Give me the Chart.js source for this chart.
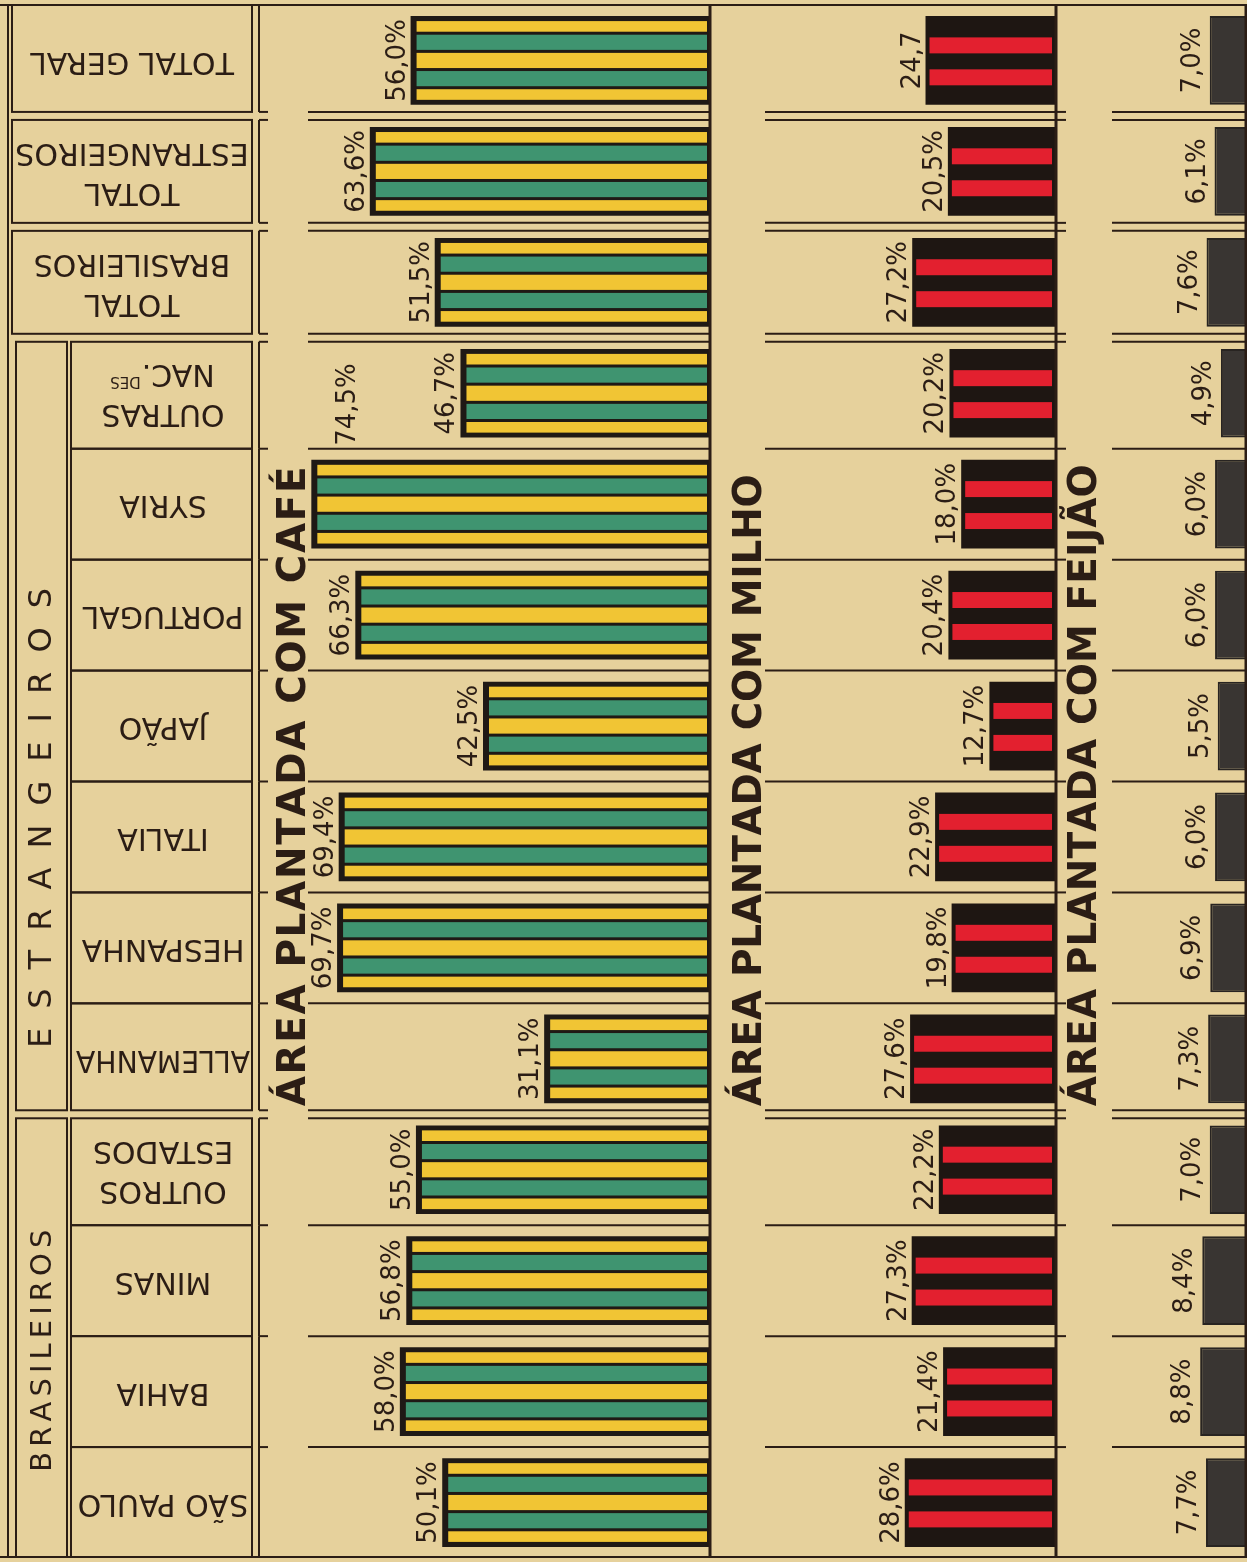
<!DOCTYPE html>
<html>
<head>
<meta charset="utf-8">
<script src="https://cdn.jsdelivr.net/npm/chart.js@4.4.0/dist/chart.umd.min.js"></script>
<style>
  html, body { margin: 0; padding: 0; background: #e6d19c; overflow: hidden; }
  #wrap { position: relative; width: 1247px; height: 1562px; }
  canvas { position: absolute; top: 0; }
</style>
</head>
<body>
<div id="wrap">
  <canvas id="cafe" width="713" height="1562" style="left:0"></canvas>
  <canvas id="milho" width="347" height="1562" style="left:711px"></canvas>
  <canvas id="feijao" width="190" height="1562" style="left:1057px"></canvas>
</div>
<script>
// categorias de cima para baixo (o grafico esta deitado)
const categorias = [
  'TOTAL GERAL', 'TOTAL\nESTRANGEIROS', 'TOTAL\nBRASILEIROS',
  'OUTRAS\nNAC.|DES', 'SYRIA', 'PORTUGAL', 'JAPÃO', 'ITALIA', 'HESPANHA', 'ALLEMANHA',
  'OUTROS\nESTADOS', 'MINAS', 'BAHIA', 'SÃO PAULO'
];
const grupos = [
  'TOTAL', 'TOTAL', 'TOTAL',
  'ESTRANGEIROS', 'ESTRANGEIROS', 'ESTRANGEIROS', 'ESTRANGEIROS', 'ESTRANGEIROS', 'ESTRANGEIROS', 'ESTRANGEIROS',
  'BRASILEIROS', 'BRASILEIROS', 'BRASILEIROS', 'BRASILEIROS'
];
const cafe   = [56.0, 63.6, 51.5, 46.7, 74.5, 66.3, 42.5, 69.4, 69.7, 31.1, 55.0, 56.8, 58.0, 50.1];
const milho  = [24.7, 20.5, 27.2, 20.2, 18.0, 20.4, 12.7, 22.9, 19.8, 27.6, 22.2, 27.3, 21.4, 28.6];
const feijao = [7.0, 6.1, 7.6, 4.9, 6.0, 6.0, 5.5, 6.0, 6.9, 7.3, 7.0, 8.4, 8.8, 7.7];
const milhoSemPct = ['TOTAL GERAL']; // no original o total de milho vem sem o sinal %

const TINTA = '#2b1d15';
const AMARELO = '#f1c534';
const VERDE = '#3f9470';
const VERMELHO = '#e3202f';
const FONTE = '"DejaVu Sans", sans-serif';

const fmt = v => v.toFixed(1).replace('.', ',');

// limites das linhas, a partir da escala y do proprio grafico
function linhas(chart) {
  const y = chart.scales.y;
  const a = chart.chartArea;
  const n = categorias.length;
  const c = i => y.getPixelForValue(i);
  const lim = i => (c(i) + c(i + 1)) / 2;
  const duplo = i => grupos[i] === 'TOTAL' || grupos[i] !== grupos[i + 1];
  const rows = [];
  for (let i = 0; i < n; i++) {
    const topo = i === 0 ? a.top : lim(i - 1) + (duplo(i - 1) ? 4 : 0);
    const fundo = i === n - 1 ? a.bottom - 1 : lim(i) - (duplo(i) ? 4 : 0);
    rows.push({ topo, fundo, centro: c(i) });
  }
  const seps = [];
  for (let i = 0; i < n - 1; i++) {
    if (duplo(i)) { seps.push(lim(i) - 4, lim(i) + 4); } else { seps.push(lim(i)); }
  }
  return { rows, seps, lim };
}

function hline(ctx, x1, x2, y) { ctx.beginPath(); ctx.moveTo(x1, y); ctx.lineTo(x2, y); ctx.stroke(); }
function vline(ctx, x, y1, y2) { ctx.beginPath(); ctx.moveTo(x, y1); ctx.lineTo(x, y2); ctx.stroke(); }

// texto ao longo do eixo x local com comprimento total fixo
function textoEspacado(ctx, txt, comprimento) {
  const chars = [...txt];
  const w = chars.map(ch => ctx.measureText(ch).width);
  const soma = w.reduce((s, v) => s + v, 0);
  const extra = (comprimento - soma) / (chars.length - 1);
  let x = 0;
  chars.forEach((ch, k) => { ctx.fillText(ch, x, 0); x += w[k] + extra; });
}

function tituloVertical(ctx, txt, x, yInicio, comprimento) {
  ctx.save();
  ctx.translate(x, yInicio);
  ctx.rotate(-Math.PI / 2);
  ctx.font = 'bold 39px ' + FONTE;
  ctx.fillStyle = TINTA;
  ctx.textAlign = 'left';
  ctx.textBaseline = 'alphabetic';
  textoEspacado(ctx, txt, comprimento);
  ctx.restore();
}

// moldura comum: bordas, separadores de linha, titulo
function molduraPlugin(cfg) {
  return {
    id: 'moldura',
    afterDraw(chart) {
      const ctx = chart.ctx;
      const a = chart.chartArea;
      const L = linhas(chart);
      ctx.save();
      ctx.strokeStyle = TINTA;
      ctx.lineWidth = 2;
      hline(ctx, 0, chart.width, a.top);
      hline(ctx, 0, chart.width, a.bottom - 1);
      L.seps.forEach(y => {
        hline(ctx, cfg.sepDe, a.right, y);
        if (cfg.toco) hline(ctx, cfg.toco[0], cfg.toco[1], y);
      });
      ctx.lineWidth = 3;
      vline(ctx, a.right - 1, a.top, a.bottom - 1);
      ctx.restore();
      // a linha de base do texto fica do lado direito (topo das letras para a esquerda)
      tituloVertical(ctx, cfg.titulo, cfg.tituloX, L.lim(9) - 8, cfg.tituloLen);
      if (cfg.extra) cfg.extra(chart, L);
    }
  };
}

// rotulos de valor, girados 90 graus
function rotulosPlugin(cfg) {
  return {
    id: 'rotulos',
    afterDraw(chart) {
      const ctx = chart.ctx;
      const ds = chart.data.datasets[0];
      chart.getDatasetMeta(0).data.forEach((bar, i) => {
        const { x, y, base, height } = bar.getProps(['x', 'y', 'base', 'height'], true);
        const esq = Math.min(x, base);
        const txt = fmt(ds.data[i]) + (cfg.semPct && cfg.semPct.includes(categorias[i]) ? '' : '%');
        ctx.save();
        ctx.font = '26px ' + FONTE;
        ctx.fillStyle = TINTA;
        ctx.textBaseline = 'alphabetic';
        if (cfg.limite && esq - cfg.gap - 20 < cfg.limite) {
          ctx.translate(esq + 44, y - height / 2 - 14);
          ctx.rotate(-Math.PI / 2);
          ctx.textAlign = 'left';
        } else {
          ctx.translate(esq - cfg.gap, y);
          ctx.rotate(-Math.PI / 2);
          ctx.textAlign = 'center';
        }
        ctx.fillText(txt, 0, 0);
        ctx.restore();
      });
    }
  };
}

// faixas dentro das barras
function faixasPlugin(tipo) {
  return {
    id: 'faixas',
    afterDatasetsDraw(chart) {
      const ctx = chart.ctx;
      chart.getDatasetMeta(0).data.forEach(bar => {
        const { x, y, base, height } = bar.getProps(['x', 'y', 'base', 'height'], true);
        const esq = Math.min(x, base), dir = Math.max(x, base);
        const topo = y - height / 2;
        ctx.save();
        if (tipo === 'cafe') {
          const t = 5, g = 3;
          const pesos = [0.7, 1, 1, 1, 0.7];
          const tot = pesos.reduce((s, v) => s + v, 0);
          const util = height - 2 * t - g * (pesos.length - 1);
          let yy = topo + t;
          pesos.forEach((p, k) => {
            const h = util * p / tot;
            ctx.fillStyle = k % 2 ? VERDE : AMARELO;
            ctx.fillRect(esq + 6, yy, dir - esq - 10, h);
            yy += h + g;
          });
        } else if (tipo === 'milho') {
          ctx.fillStyle = VERMELHO;
          [[0.24, 0.42], [0.60, 0.78]].forEach(([f1, f2]) => {
            ctx.fillRect(esq + 4, topo + height * f1, dir - esq - 9, height * (f2 - f1));
          });
        }
        ctx.restore();
      });
    }
  };
}

// coluna de nomes a esquerda (desenhada no grafico do cafe)
function colunaNomes(chart, L) {
  const ctx = chart.ctx;
  const a = chart.chartArea;
  ctx.save();
  ctx.strokeStyle = TINTA;
  ctx.lineWidth = 2;
  vline(ctx, 8, a.top, a.bottom - 1);
  L.rows.forEach((r, i) => {
    if (grupos[i] === 'TOTAL') ctx.strokeRect(12, r.topo, 240, r.fundo - r.topo);
    else ctx.strokeRect(71, r.topo, 181, r.fundo - r.topo);
    vline(ctx, 259, r.topo, r.fundo);
  });
  const desloc = { ESTRANGEIROS: 92, BRASILEIROS: 13 };
  const compr = { ESTRANGEIROS: 460, BRASILEIROS: 242 };
  const tam = { ESTRANGEIROS: 32, BRASILEIROS: 29 };
  ['ESTRANGEIROS', 'BRASILEIROS'].forEach(g => {
    const idx = grupos.map((v, i) => v === g ? i : -1).filter(i => i >= 0);
    const t = L.rows[idx[0]].topo, b = L.rows[idx[idx.length - 1]].fundo;
    ctx.strokeRect(16, t, 51, b - t);
    const meio = (t + b) / 2 + desloc[g];
    ctx.save();
    ctx.translate(43, meio + compr[g] / 2);
    ctx.rotate(-Math.PI / 2);
    ctx.font = tam[g] + 'px ' + FONTE;
    ctx.fillStyle = TINTA;
    ctx.textAlign = 'left';
    ctx.textBaseline = 'middle';
    textoEspacado(ctx, g, compr[g]);
    ctx.restore();
  });
  // nomes de cabeca para baixo
  L.rows.forEach((r, i) => {
    const partes = categorias[i].split('\n');
    const total = grupos[i] === 'TOTAL';
    const cx = total ? 132 : 163;
    const maxW = total ? 234 : 174;
    ctx.save();
    ctx.translate(cx, r.centro);
    ctx.rotate(Math.PI);
    ctx.fillStyle = TINTA;
    ctx.textBaseline = 'middle';
    const lh = 40;
    partes.forEach((p, k) => {
      const yy = (k - (partes.length - 1) / 2) * lh;
      if (p.includes('|')) {
        const [m, s] = p.split('|');
        ctx.font = '30px ' + FONTE;
        const wm = ctx.measureText(m).width;
        ctx.font = '15px ' + FONTE;
        const ws = ctx.measureText(s).width;
        const x0 = -(wm + ws) / 2;
        ctx.textAlign = 'left';
        ctx.font = '30px ' + FONTE;
        ctx.fillText(m, x0, yy);
        ctx.font = '15px ' + FONTE;
        ctx.fillText(s, x0 + wm + 1, yy - 8);
      } else {
        ctx.font = '30px ' + FONTE;
        ctx.textAlign = 'center';
        ctx.fillText(p, 0, yy, maxW);
      }
    });
    ctx.restore();
  });
  ctx.restore();
}

function criarGrafico(id, valores, op) {
  return new Chart(document.getElementById(id), {
    type: 'bar',
    data: {
      labels: categorias,
      datasets: [{
        data: valores,
        backgroundColor: op.cor,
        borderColor: op.borda || op.cor,
        borderWidth: op.borda ? 2 : 0,
        barPercentage: 0.8,
        categoryPercentage: 1
      }]
    },
    options: {
      indexAxis: 'y',
      responsive: false,
      animation: false,
      layout: { padding: op.padding },
      scales: {
        x: { reverse: true, min: 0, max: op.max, display: false },
        y: { display: false, offset: true }
      },
      plugins: { legend: { display: false }, tooltip: { enabled: false } }
    },
    plugins: [faixasPlugin(op.tipo), molduraPlugin(op.moldura), rotulosPlugin(op.rotulos)]
  });
}

criarGrafico('cafe', cafe, {
  tipo: 'cafe', cor: '#1f1915', max: 85,
  padding: { left: 255, right: 2, top: 5, bottom: 4 },
  moldura: { sepDe: 308, toco: [259, 268], titulo: 'ÁREA PLANTADA COM CAFÉ', tituloX: 305, tituloLen: 640, extra: colunaNomes },
  rotulos: { gap: 6, limite: 310 }
});
criarGrafico('milho', milho, {
  tipo: 'milho', cor: '#1e1612', max: 65,
  padding: { left: 0, right: 1, top: 5, bottom: 4 },
  moldura: { sepDe: 54, titulo: 'ÁREA PLANTADA COM MILHO', tituloX: 50, tituloLen: 632 },
  rotulos: { gap: 6, semPct: milhoSemPct }
});
criarGrafico('feijao', feijao, {
  tipo: 'feijao', cor: '#393532', borda: '#282421', max: 35.5,
  padding: { left: 1, right: 0, top: 5, bottom: 4 },
  moldura: { sepDe: 55, toco: [0, 9], titulo: 'ÁREA PLANTADA COM FEIJÃO', tituloX: 39, tituloLen: 642 },
  rotulos: { gap: 10 }
});
</script>
</body>
</html>
